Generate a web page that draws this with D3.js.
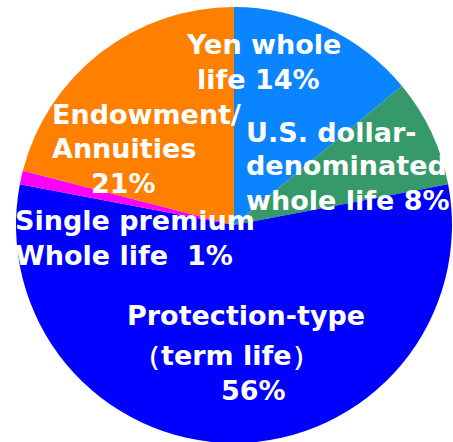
<!DOCTYPE html>
<html>
<head>
<meta charset="utf-8">
<script src="https://cdn.jsdelivr.net/npm/d3@7"></script>
<style>
  html, body { margin: 0; padding: 0; background: #fff; }
  svg { display: block; }
  .lbl { font-family: "DejaVu Sans", Verdana, sans-serif; font-weight: bold; fill: #fff; white-space: pre; }
</style>
</head>
<body>
<div id="chart"></div>
<script>
// data
const categories = [
	"Yen whole life",
	"U.S. dollar-denominated whole life",
	"Protection-type (term life)",
	"Single premium Whole life",
	"Endowment/Annuities"
];
const shares = [14, 8, 56, 1, 21];
const labelLines = [
	["Yen whole", "life 14%"],
	["U.S. dollar-", "denominated", "whole life 8%"],
	["Protection-type", "（term life）", "56%"],
	["Single premium", "Whole life  1%"],
	["Endowment/", "Annuities", "21%"]
];

// layout / style
const colors = ["#0a84ff", "#35996a", "#0000ff", "#ff00ff", "#ff8000"];
// label line offsets from pie centre [dx, dy] (baseline)
const labelPos = [
	[[-47, -171], [-37, -136]],
	[[12, -83], [12, -50], [12, -15]],
	[[-107, 100], [-100, 140], [-13, 175]],
	[[-219, 5], [-219, 40]],
	[[-182, -101], [-182, -67], [-143, -32]]
];

const width = 453,
	height = 442,
	cx = 234,
	cy = 225,
	r = 218,
	fontSize = 27;

const svg = d3
	.select("#chart")
	.append("svg")
	.attr("width", width)
	.attr("height", height);

const pie = d3.pie().sort(null).value((d) => d);
const arc = d3.arc().innerRadius(0).outerRadius(r);

const g = svg.append("g").attr("transform", `translate(${cx},${cy})`);

g.selectAll("path.slice")
	.data(pie(shares))
	.enter()
	.append("path")
	.attr("class", "slice")
	.attr("d", arc)
	.attr("fill", (d, i) => colors[i]);

const labels = g
	.selectAll("text.lbl")
	.data(labelLines)
	.enter()
	.append("text")
	.attr("class", "lbl")
	.attr("xml:space", "preserve")
	.style("font-size", fontSize + "px");

labels
	.selectAll("tspan")
	.data((d, i) => d.map((line, j) => ({ line, pos: labelPos[i][j] })))
	.enter()
	.append("tspan")
	.attr("x", (d) => d.pos[0])
	.attr("y", (d) => d.pos[1])
	.text((d) => d.line);
</script>
</body>
</html>
